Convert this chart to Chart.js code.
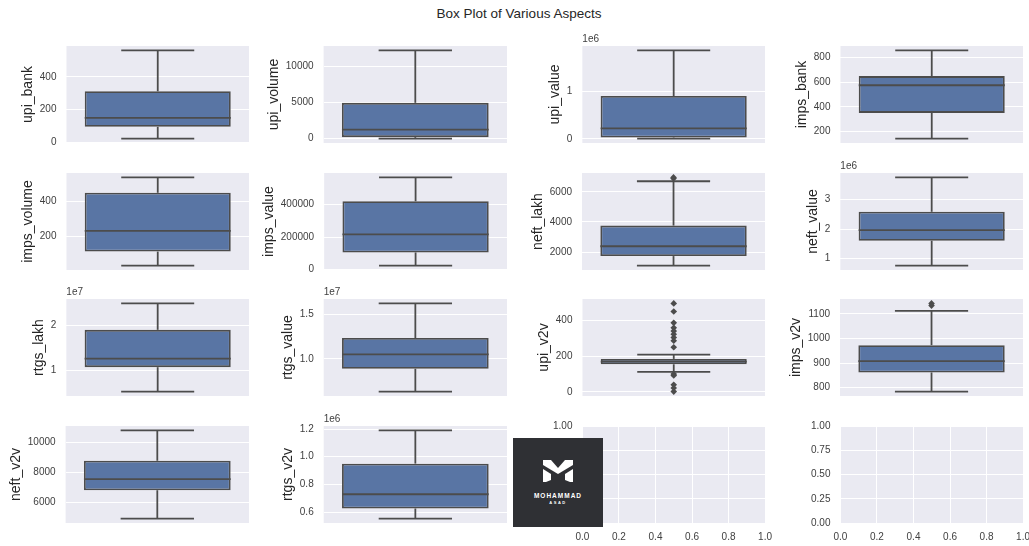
<!DOCTYPE html>
<html lang="en">
<head>
<meta charset="utf-8">
<title>Box Plot of Various Aspects</title>
<script src="https://cdn.jsdelivr.net/npm/chart.js@4.4.0/dist/chart.umd.min.js"></script>
<style>
  html, body { margin: 0; padding: 0; background: #fff; overflow: hidden; }
  #page { position: relative; width: 1029px; height: 546px; overflow: hidden; }
  #title {
    position: absolute; left: 0; top: 6px; width: 1038px; text-align: center;
    font: 13.5px "Liberation Sans", Arial, sans-serif; color: #262626; line-height: 16px;
  }
  canvas { position: absolute; }
  #logo {
    position: absolute; left: 513px; top: 438px; width: 90px; height: 89px;
    background: #2f3034; z-index: 5; color: #fff; font-family: "Liberation Sans", Arial, sans-serif;
  }
  #logo svg { position: absolute; left: 30px; top: 22px; }
  #logo .n1 { position: absolute; left: 0; width: 90px; top: 54px; text-align: center; font-size: 6.5px; font-weight: bold; letter-spacing: 1px; }
  #logo .n2 { position: absolute; left: 0; width: 90px; top: 62px; text-align: center; font-size: 4px; font-weight: bold; letter-spacing: 1.5px; }
</style>
</head>
<body>
<div id="page">
  <div id="title">Box Plot of Various Aspects</div>
  <div id="logo">
    <svg width="30" height="22" viewBox="0 0 30 22">
      <polygon fill="#fff" points="0,0 8,0 15,8 15,14 0,5"/>
      <polygon fill="#fff" points="30,0 22,0 15,8 15,14 30,5"/>
      <polygon fill="#fff" points="0,9 8,14 8,20 3,22 0,22"/>
      <polygon fill="#fff" points="30,9 22,14 22,20 27,22 30,22"/>
    </svg>
    <div class="n1">MOHAMMAD</div>
    <div class="n2">ASAD</div>
  </div>
</div>
<script>
// box plot summaries
const names = ['upi_bank', 'upi_volume', 'upi_value', 'imps_bank',
               'imps_volume', 'imps_value', 'neft_lakh', 'neft_value',
               'rtgs_lakh', 'rtgs_value', 'upi_v2v', 'imps_v2v',
               'neft_v2v', 'rtgs_v2v'];
const whiskerLow  = [21, 20, 6000, 144, 29, 24000, 1110, 766000, 5.34e6, 6.36e6, 113, 784, 4890, 553000];
const q1          = [93, 220, 27000, 352, 110, 105000, 1740, 1.61e6, 1.073e7, 8.9e6, 155, 862, 6790, 626000];
const median      = [148, 1274, 219000, 576, 230, 216000, 2390, 1.967e6, 1.263e7, 1.051e7, 170, 908, 7536, 729000];
const q3          = [311, 4970, 896000, 650, 450, 420000, 3760, 2.59e6, 1.897e7, 1.233e7, 185, 973, 8762, 950000];
const whiskerHigh = [562, 12233, 1.849e6, 858, 539, 567000, 6694, 3.756e6, 2.48e7, 1.618e7, 209, 1113, 10795, 1190000];
const outliers = [[], [], [], [], [], [], [6880, 6950], [], [], [],
  [496, 451, 387, 359, 341, 323, 305, 287, 250, 100, 92, 40, 22, 2],
  [1134, 1143], [], []];

// y ticks: step, offset exponent (the "1e6" text) and decimals
const yStep = [200, 5000, 1e6, 200, 200, 200000, 2000, 1e6, 1e7, 5e6, 200, 100, 2000, 2e5];
const exponent = [0, 0, 6, 0, 0, 0, 0, 6, 7, 7, 0, 0, 0, 6];
const decimals = [0, 0, 0, 0, 0, 0, 0, 0, 0, 1, 0, 0, 0, 1];

// the two empty axes
const emptyX = { min: 0, max: 1, step: 0.2, decimals: 1 };
const emptyY = { min: 0, max: 1, step: 0.25, decimals: 2 };

const BOX_FILL = '#5975a4';
const LINE = '#4c4c4c';
const PANEL = '#eaeaf2';
const FONT = '"Liberation Sans", Arial, sans-serif';
const TICK_COLOR = '#404040';
const LW = 1.8;

const colLeft = [66, 324, 582, 840];
const rowTop = [46, 173, 299, 426];
const plotW = 183, plotH = 97;

const page = document.getElementById('page');

function yRange(i) {
  const vals = [whiskerLow[i], whiskerHigh[i]].concat(outliers[i]);
  const lo = Math.min(...vals), hi = Math.max(...vals);
  const pad = (hi - lo) * 0.05;
  return [lo - pad, hi + pad];
}

// ticks on multiples of the step inside [min, max]
function stepTicks(min, max, step) {
  const out = [];
  for (let n = Math.ceil(min / step - 1e-9); n * step <= max + 1e-9; n++) {
    out.push({ value: Math.round(n * step * 1e6) / 1e6 });
  }
  return out;
}

const panelBg = {
  id: 'panelBg',
  beforeDraw(chart) {
    const a = chart.chartArea, ctx = chart.ctx;
    ctx.save();
    ctx.fillStyle = PANEL;
    ctx.fillRect(a.left, a.top, a.right - a.left, a.bottom - a.top);
    ctx.restore();
  }
};

function boxParts(i) {
  return {
    id: 'boxParts',
    afterDatasetsDraw(chart) {
      const y = chart.scales.y, ctx = chart.ctx;
      const bar = chart.getDatasetMeta(0).data[0];
      const { x, width } = bar.getProps(['x', 'width'], true);
      const half = width / 2, cap = width / 4;
      ctx.save();
      ctx.strokeStyle = LINE;
      ctx.lineWidth = LW;
      ctx.lineCap = 'butt';
      const seg = (x1, y1, x2, y2) => { ctx.beginPath(); ctx.moveTo(x1, y1); ctx.lineTo(x2, y2); ctx.stroke(); };
      // whiskers
      seg(x, y.getPixelForValue(q3[i]), x, y.getPixelForValue(whiskerHigh[i]));
      seg(x, y.getPixelForValue(q1[i]), x, y.getPixelForValue(whiskerLow[i]));
      // caps
      seg(x - cap, y.getPixelForValue(whiskerHigh[i]), x + cap, y.getPixelForValue(whiskerHigh[i]));
      seg(x - cap, y.getPixelForValue(whiskerLow[i]), x + cap, y.getPixelForValue(whiskerLow[i]));
      // median
      seg(x - half, y.getPixelForValue(median[i]), x + half, y.getPixelForValue(median[i]));
      // offset text
      if (exponent[i]) {
        ctx.fillStyle = TICK_COLOR;
        ctx.font = '10px ' + FONT;
        ctx.textBaseline = 'alphabetic';
        ctx.textAlign = 'left';
        ctx.fillText('1e' + exponent[i], chart.chartArea.left, chart.chartArea.top - 4);
      }
      ctx.restore();
    }
  };
}

function tickOpts(fmt, pad) {
  return {
    padding: pad, color: TICK_COLOR,
    font: { family: FONT, size: 10 }, callback: fmt
  };
}

function boxConfig(i) {
  const [lo, hi] = yRange(i);
  const div = Math.pow(10, exponent[i]);
  return {
    type: 'bar',
    data: {
      labels: ['box'],
      datasets: [{
        data: [[q1[i], q3[i]]],
        backgroundColor: BOX_FILL,
        borderColor: LINE,
        borderWidth: LW,
        borderSkipped: false,
        barPercentage: 0.8,
        categoryPercentage: 1.0
      }, {
        type: 'line',
        data: outliers[i].map(v => ({ x: 'box', y: v })),
        showLine: false,
        pointStyle: 'rectRot',
        pointRadius: 3.3,
        pointBackgroundColor: LINE,
        pointBorderColor: LINE,
        pointBorderWidth: 0
      }]
    },
    options: {
      responsive: false,
      maintainAspectRatio: false,
      animation: false,
      layout: { padding: { top: 16, right: 12, bottom: 4, left: 0 } },
      plugins: { legend: { display: false }, tooltip: { enabled: false } },
      scales: {
        x: { display: false },
        y: {
          min: lo, max: hi,
          afterBuildTicks: s => { s.ticks = stepTicks(lo, hi, yStep[i]); },
          grid: { color: '#fff', lineWidth: 1, drawTicks: false },
          border: { display: false },
          ticks: tickOpts(v => (v / div).toFixed(decimals[i]), 10),
          title: { display: true, text: names[i], color: '#262626', font: { family: FONT, size: 14 }, padding: { top: 0, bottom: -7 } }
        }
      }
    },
    plugins: [panelBg, boxParts(i)]
  };
}

function emptyConfig() {
  const grid = { color: '#fff', lineWidth: 1, drawTicks: false };
  return {
    type: 'scatter',
    data: { datasets: [] },
    options: {
      responsive: false,
      maintainAspectRatio: false,
      animation: false,
      layout: { padding: { top: 16, right: 12, bottom: 4, left: 0 } },
      plugins: { legend: { display: false }, tooltip: { enabled: false } },
      scales: {
        x: {
          type: 'linear', min: emptyX.min, max: emptyX.max, grid, border: { display: false },
          afterBuildTicks: s => { s.ticks = stepTicks(emptyX.min, emptyX.max, emptyX.step); },
          ticks: tickOpts(v => v.toFixed(emptyX.decimals), 8)
        },
        y: {
          type: 'linear', min: emptyY.min, max: emptyY.max, grid, border: { display: false },
          afterBuildTicks: s => { s.ticks = stepTicks(emptyY.min, emptyY.max, emptyY.step); },
          ticks: tickOpts(v => v.toFixed(emptyY.decimals), 10)
        }
      }
    },
    plugins: [panelBg]
  };
}

// draw once to measure the margins, then size the canvas so the plot area lands where it should
function place(makeConfig, left, top) {
  const canvas = document.createElement('canvas');
  canvas.width = 320;
  canvas.height = 150;
  page.appendChild(canvas);
  let chart = new Chart(canvas, makeConfig());
  const a = chart.chartArea;
  const w = Math.round(a.left + plotW + (chart.width - a.right));
  const h = Math.round(a.top + plotH + (chart.height - a.bottom));
  chart.destroy();
  canvas.width = w;
  canvas.height = h;
  chart = new Chart(canvas, makeConfig());
  const b = chart.chartArea;
  canvas.style.left = (left - b.left) + 'px';
  canvas.style.top = (top - b.top) + 'px';
  return chart;
}

for (let k = 0; k < 16; k++) {
  const left = colLeft[k % 4], top = rowTop[Math.floor(k / 4)];
  if (k < names.length) place(() => boxConfig(k), left, top);
  else place(emptyConfig, left, top);
}
</script>
</body>
</html>
